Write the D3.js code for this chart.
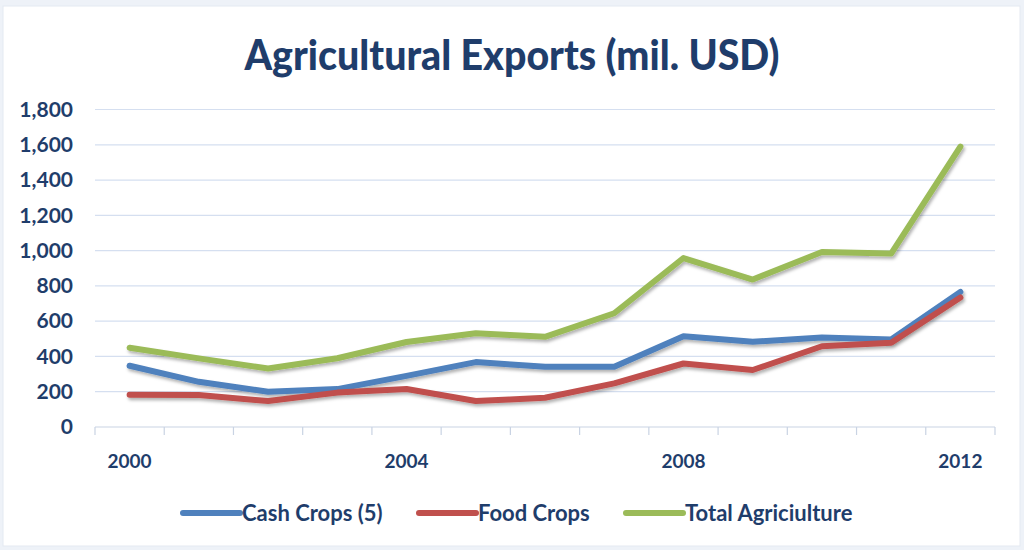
<!DOCTYPE html>
<html>
<head>
<meta charset="utf-8">
<script src="https://cdn.jsdelivr.net/npm/d3@7"></script>
<style>
  body { margin: 0; background: #fff; }
  svg { display: block; }
</style>
</head>
<body>
<svg width="1024" height="550"></svg>
<script>
// data
var years = [2000, 2001, 2002, 2003, 2004, 2005, 2006, 2007, 2008, 2009, 2010, 2011, 2012];
var cashCrops = [347, 256, 200, 215, 290, 368, 341, 341, 515, 483, 508, 496, 766];
var foodCrops = [183, 181, 147, 195, 215, 147, 166, 247, 360, 323, 458, 477, 734];
var totalAgri = [449, 389, 332, 390, 482, 532, 511, 645, 958, 836, 992, 983, 1590];
var yTicks = [0, 200, 400, 600, 800, 1000, 1200, 1400, 1600, 1800];
var xLabels = [2000, 2004, 2008, 2012];

var series = [
  { name: "Cash Crops (5)", values: cashCrops, color: "#4f81bd" },
  { name: "Food Crops", values: foodCrops, color: "#c0504d" },
  { name: "Total Agriciulture", values: totalAgri, color: "#9bbb59" }
];

var svg = d3.select("svg");
var navy = "#1f3d6b";
var font = "Lato, 'Open Sans', sans-serif";

// outer frame
svg.append("rect").attr("x", 0).attr("y", 0).attr("width", 1024).attr("height", 550).attr("fill", "#eef2f8");
svg.append("rect").attr("x", 3).attr("y", 6).attr("width", 1017).attr("height", 540)
  .attr("fill", "#fff").attr("stroke", "#e4e9f1");

var margin = { top: 109.5, left: 95, right: 29, bottom: 123 };
var plotW = 1024 - margin.left - margin.right;
var plotH = 550 - margin.top - margin.bottom;

var x = d3.scaleBand().domain(years).range([0, plotW]);
var y = d3.scaleLinear().domain([0, 1800]).range([plotH, 0]);

var defs = svg.append("defs");
var f = defs.append("filter").attr("id", "shadow").attr("x", "-5%").attr("y", "-10%").attr("width", "110%").attr("height", "130%");
f.append("feDropShadow").attr("dx", 1.5).attr("dy", 2.5).attr("stdDeviation", 1.5)
  .attr("flood-color", "#000").attr("flood-opacity", 0.3);

// title
svg.append("text")
  .attr("x", 512).attr("y", 70)
  .attr("text-anchor", "middle")
  .attr("font-family", font)
  .attr("font-weight", "900")
  .attr("font-size", 42)
  .attr("textLength", 535)
  .attr("lengthAdjust", "spacingAndGlyphs")
  .attr("fill", navy)
  .text("Agricultural Exports (mil. USD)");

var plot = svg.append("g").attr("transform", "translate(" + margin.left + "," + margin.top + ")");

// gridlines
plot.append("g")
  .selectAll("line")
  .data(yTicks.slice(1))
  .join("line")
  .attr("x1", 0).attr("x2", plotW)
  .attr("y1", function(d) { return y(d); })
  .attr("y2", function(d) { return y(d); })
  .attr("stroke", "#d5dff0").attr("stroke-width", 1.2);

// y axis labels
var yAxis = d3.axisLeft(y).tickValues(yTicks).tickSize(0).tickPadding(22).tickFormat(d3.format(","));
plot.append("g").call(yAxis)
  .call(function(g) { g.select(".domain").remove(); })
  .selectAll("text")
  .attr("font-family", font).attr("font-weight", "bold").attr("font-size", 21).attr("fill", navy);

// x axis: category boundaries as ticks
var xAxisG = plot.append("g").attr("transform", "translate(0," + plotH + ")");
xAxisG.append("line").attr("x1", 0).attr("x2", plotW).attr("stroke", "#c9d3e3").attr("stroke-width", 1.2);
var bounds = years.map(function(d) { return x(d); }).concat([plotW]);
xAxisG.selectAll("line.tick")
  .data(bounds)
  .join("line")
  .attr("class", "tick")
  .attr("x1", function(d) { return d; }).attr("x2", function(d) { return d; })
  .attr("y1", 0).attr("y2", 8)
  .attr("stroke", "#c9d3e3").attr("stroke-width", 1.2);
xAxisG.selectAll("text")
  .data(xLabels)
  .join("text")
  .attr("x", function(d) { return x(d) + x.bandwidth() / 2; })
  .attr("y", 41)
  .attr("text-anchor", "middle")
  .attr("font-family", font).attr("font-weight", "bold").attr("font-size", 19).attr("fill", navy)
  .text(function(d) { return d; });

// lines
var line = d3.line()
  .x(function(d, i) { return x(years[i]) + x.bandwidth() / 2; })
  .y(function(d) { return y(d); });

plot.selectAll("path.series")
  .data(series)
  .join("path")
  .attr("class", "series")
  .attr("d", function(d) { return line(d.values); })
  .attr("fill", "none")
  .attr("stroke", function(d) { return d.color; })
  .attr("stroke-width", 6)
  .attr("stroke-linejoin", "round")
  .attr("stroke-linecap", "round")
  .attr("filter", "url(#shadow)");

// legend
var legendX = [183, 419, 626];
var legend = svg.append("g").selectAll("g")
  .data(series)
  .join("g")
  .attr("transform", function(d, i) { return "translate(" + legendX[i] + ",513)"; });
legend.append("line")
  .attr("x1", 0).attr("x2", 57)
  .attr("stroke", function(d) { return d.color; })
  .attr("stroke-width", 6)
  .attr("stroke-linecap", "round");
legend.append("text")
  .attr("x", 59).attr("y", 8)
  .attr("font-family", font).attr("font-weight", "bold").attr("font-size", 22).attr("fill", navy)
  .text(function(d) { return d.name; });
</script>
</body>
</html>
